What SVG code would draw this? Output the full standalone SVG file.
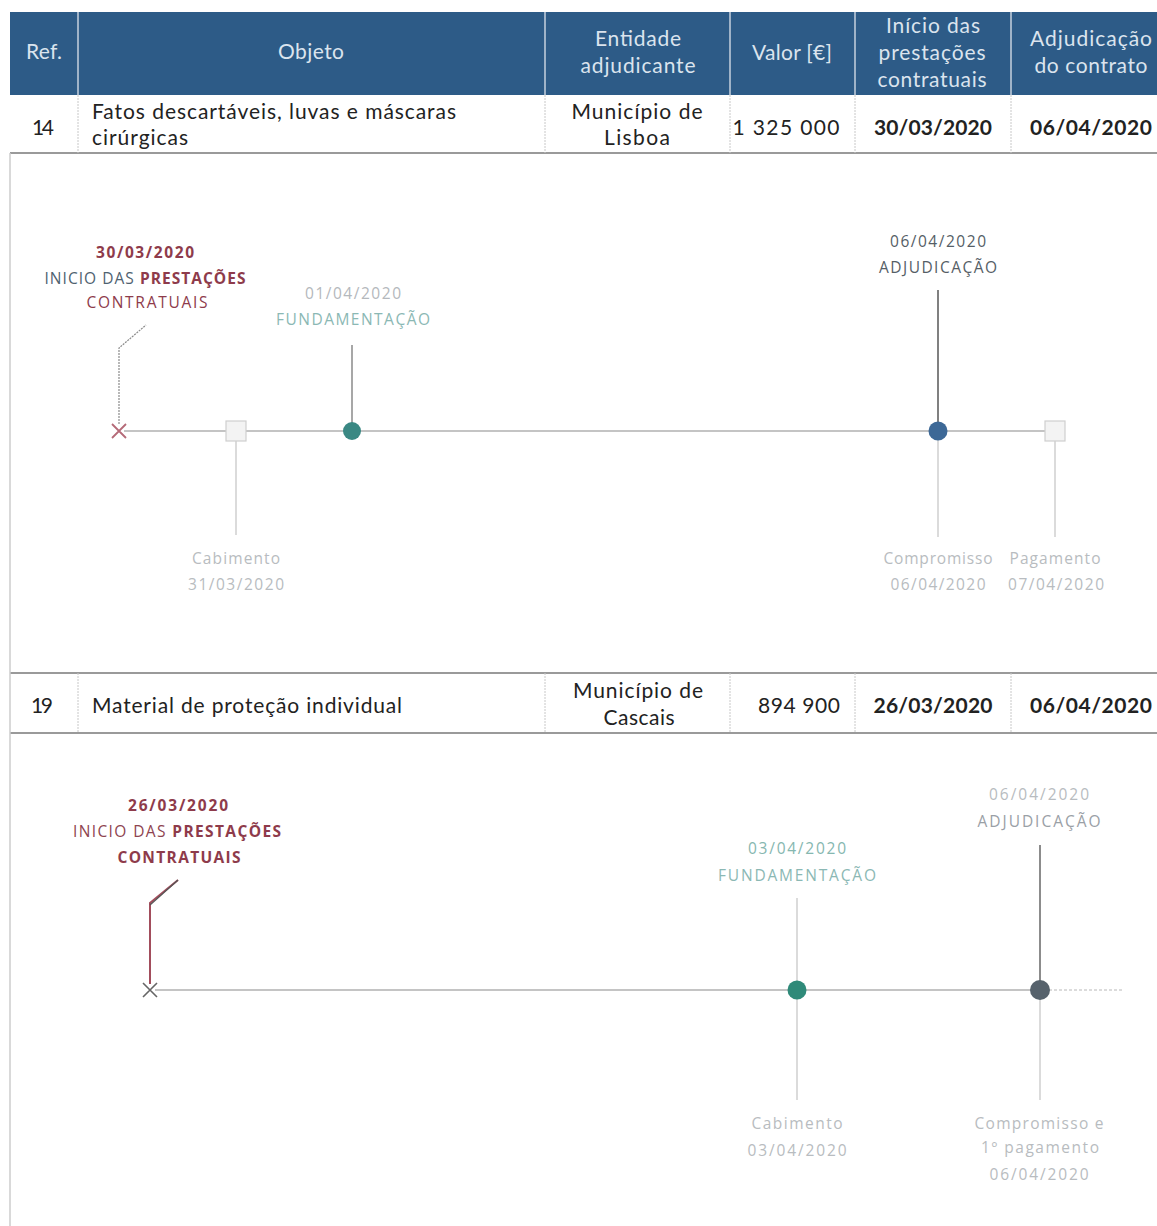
<svg xmlns="http://www.w3.org/2000/svg" width="1157" height="1226" viewBox="0 0 1157 1226">
<style>
.hd{font-family:Lato,"Open Sans","Liberation Sans",sans-serif;font-size:21px;fill:#dbe4ee;text-anchor:middle}
.cell{font-family:Lato,"Open Sans","Liberation Sans",sans-serif;font-size:21px;fill:#222}
.mid{text-anchor:middle}
.b{font-weight:bold}
.tl{font-family:"Open Sans","Liberation Sans",sans-serif;font-size:15.5px;text-anchor:middle}
.red{fill:#8e3b4b}
.gray{fill:#555e66}
.lite{fill:#b8bcc0}
.teal{fill:#8bb8b4}
.rowline{stroke:#9a9a9a;stroke-width:2}
.colsep{stroke:#c8c8c8;stroke-width:1;stroke-dasharray:2 1}
.hsep{stroke:#9fb3c8;stroke-width:2}
.axis{stroke:#b0b0b0;stroke-width:1.5}
.tick{stroke:#cfcfcf;stroke-width:1.5}
.tickd{stroke:#8a8a8a;stroke-width:1.5}
.sq{fill:#f3f3f3;stroke:#cfcfcf;stroke-width:1.2}
</style>
<rect width="1157" height="1226" fill="#ffffff"/>

<g id="table-header">
<rect x="10" y="12" width="1147" height="83" fill="#2d5b87"/>
<line class="hsep" x1="78" y1="12" x2="78" y2="95"/>
<line class="hsep" x1="545" y1="12" x2="545" y2="95"/>
<line class="hsep" x1="730" y1="12" x2="730" y2="95"/>
<line class="hsep" x1="855" y1="12" x2="855" y2="95"/>
<line class="hsep" x1="1011" y1="12" x2="1011" y2="95"/>
<text class="hd" x="44" y="59" textLength="36">Ref.</text>
<text class="hd" x="311" y="59" textLength="66">Objeto</text>
<text class="hd" x="638" y="46" textLength="86">Entidade</text>
<text class="hd" x="638" y="73" textLength="115">adjudicante</text>
<text class="hd" x="792" y="60" textLength="80">Valor [€]</text>
<text class="hd" x="933" y="33" textLength="94">Início das</text>
<text class="hd" x="932" y="60" textLength="107">prestações</text>
<text class="hd" x="932" y="87" textLength="109">contratuais</text>
<text class="hd" x="1091" y="46" textLength="122">Adjudicação</text>
<text class="hd" x="1091" y="73" textLength="113">do contrato</text>
</g>

<g id="row-14">
<line class="rowline" x1="10" y1="153" x2="1157" y2="153"/>
<line class="colsep" x1="78" y1="95" x2="78" y2="153"/>
<line class="colsep" x1="545" y1="95" x2="545" y2="153"/>
<line class="colsep" x1="730" y1="95" x2="730" y2="153"/>
<line class="colsep" x1="855" y1="95" x2="855" y2="153"/>
<line class="colsep" x1="1011" y1="95" x2="1011" y2="153"/>
<text class="cell mid" x="43" y="135" textLength="22">14</text>
<text class="cell" x="92" y="119" textLength="364">Fatos descartáveis, luvas e máscaras</text>
<text class="cell" x="92" y="145" textLength="96">cirúrgicas</text>
<text class="cell mid" x="637" y="119" textLength="131">Município de</text>
<text class="cell mid" x="637" y="145" textLength="66">Lisboa</text>
<text class="cell mid" x="786" y="135" textLength="107">1 325 000</text>
<text class="cell mid b" x="933" y="135" textLength="118">30/03/2020</text>
<text class="cell mid b" x="1091" y="135" textLength="122">06/04/2020</text>
</g>

<g id="row-19">
<line class="rowline" x1="10" y1="673" x2="1157" y2="673"/>
<line class="rowline" x1="10" y1="733" x2="1157" y2="733"/>
<line class="colsep" x1="78" y1="673" x2="78" y2="733"/>
<line class="colsep" x1="545" y1="673" x2="545" y2="733"/>
<line class="colsep" x1="730" y1="673" x2="730" y2="733"/>
<line class="colsep" x1="855" y1="673" x2="855" y2="733"/>
<line class="colsep" x1="1011" y1="673" x2="1011" y2="733"/>
<text class="cell mid" x="42" y="713" textLength="22">19</text>
<text class="cell" x="92" y="713" textLength="310">Material de proteção individual</text>
<text class="cell mid" x="638" y="698" textLength="130">Município de</text>
<text class="cell mid" x="639" y="725" textLength="71">Cascais</text>
<text class="cell mid" x="799" y="713" textLength="82">894 900</text>
<text class="cell mid b" x="933" y="713" textLength="119">26/03/2020</text>
<text class="cell mid b" x="1091" y="713" textLength="122">06/04/2020</text>
</g>

<g id="frame">
<line x1="10" y1="153" x2="10" y2="1226" stroke="#cccccc" stroke-width="1.5"/>
</g>

<g id="connectors">
<line class="axis" x1="124" y1="431" x2="1046" y2="431"/>
<polyline points="119,424 119,348 146,325" fill="none" stroke="#8a8a8a" stroke-width="1.2" stroke-dasharray="2 1"/>
<line class="tick" x1="236" y1="441" x2="236" y2="535"/>
<line class="tickd" x1="352" y1="345" x2="352" y2="423"/>
<line x1="938" y1="290" x2="938" y2="423" stroke="#808080" stroke-width="2"/>
<line class="tick" x1="938" y1="440" x2="938" y2="537"/>
<line class="tick" x1="1055" y1="441" x2="1055" y2="537"/>
<line class="axis" x1="155" y1="990" x2="1040" y2="990"/>
<line x1="1049" y1="990" x2="1122" y2="990" stroke="#b8b8b8" stroke-width="1" stroke-dasharray="3 2"/>
<polyline points="150,984 150,903 178,880" fill="none" stroke="#a24d5c" stroke-width="2"/>
<line x1="150" y1="905" x2="178" y2="880" stroke="#555" stroke-width="1.2"/>
<line class="tick" x1="797" y1="898" x2="797" y2="981"/>
<line class="tick" x1="797" y1="999" x2="797" y2="1100"/>
<line x1="1040" y1="845" x2="1040" y2="981" stroke="#666" stroke-width="1.5"/>
<line class="tick" x1="1040" y1="999" x2="1040" y2="1100"/>
</g>

<g id="t1-start">
<path d="M112,424 L126,438 M126,424 L112,438" stroke="#b56a78" stroke-width="1.8"/>
<text class="tl red b" x="145" y="258" textLength="98">30/03/2020</text>
<text class="tl" x="145" y="284" textLength="201"><tspan fill="#4f6270">INICIO DAS </tspan><tspan class="red b">PRESTAÇÕES</tspan></text>
<text class="tl red" x="147" y="308" textLength="121">CONTRATUAIS</text>
</g>
<g id="t1-cabimento">
<rect class="sq" x="226" y="421" width="20" height="20"/>
<text class="tl lite" x="236" y="564" textLength="88">Cabimento</text>
<text class="tl lite" x="236" y="590" textLength="96">31/03/2020</text>
</g>
<g id="t1-fundamentacao">
<circle cx="352" cy="431" r="9" fill="#3a8883"/>
<text class="tl" x="353" y="299" textLength="96" fill="#b4b8bc">01/04/2020</text>
<text class="tl teal" x="353" y="325" textLength="154">FUNDAMENTAÇÃO</text>
</g>
<g id="t1-adjudicacao">
<circle cx="938" cy="431" r="9.5" fill="#3d6896"/>
<text class="tl gray" x="938" y="247" textLength="96">06/04/2020</text>
<text class="tl gray" x="938" y="273" textLength="118">ADJUDICAÇÃO</text>
<text class="tl lite" x="938" y="564" textLength="109">Compromisso</text>
<text class="tl lite" x="938" y="590" textLength="95">06/04/2020</text>
</g>
<g id="t1-pagamento">
<rect class="sq" x="1045" y="421" width="20" height="20"/>
<text class="tl lite" x="1055" y="564" textLength="91">Pagamento</text>
<text class="tl lite" x="1056" y="590" textLength="96">07/04/2020</text>
</g>

<g id="t2-start">
<path d="M143,983 L157,997 M157,983 L143,997" stroke="#666" stroke-width="1.6"/>
<text class="tl red b" x="178" y="811" textLength="100">26/03/2020</text>
<text class="tl" x="177" y="837" textLength="208"><tspan fill="#8e4450">INICIO DAS </tspan><tspan class="red b">PRESTAÇÕES</tspan></text>
<text class="tl red b" x="179" y="863" textLength="123">CONTRATUAIS</text>
</g>
<g id="t2-fundamentacao">
<circle cx="797" cy="990" r="9.5" fill="#2f8a79"/>
<text class="tl" x="797" y="854" textLength="98" fill="#86b7b0">03/04/2020</text>
<text class="tl teal" x="797" y="881" textLength="158">FUNDAMENTAÇÃO</text>
<text class="tl lite" x="797" y="1129" textLength="91">Cabimento</text>
<text class="tl lite" x="797" y="1156" textLength="99">03/04/2020</text>
</g>
<g id="t2-adjudicacao">
<circle cx="1040" cy="990" r="10" fill="#56626c"/>
<text class="tl lite" x="1039" y="800" textLength="100">06/04/2020</text>
<text class="tl" x="1039" y="827" textLength="123" fill="#9aa0a6">ADJUDICAÇÃO</text>
<text class="tl lite" x="1039" y="1129" textLength="129">Compromisso e</text>
<text class="tl lite" x="1040" y="1153" textLength="118">1º pagamento</text>
<text class="tl lite" x="1039" y="1180" textLength="99">06/04/2020</text>
</g>
</svg>
